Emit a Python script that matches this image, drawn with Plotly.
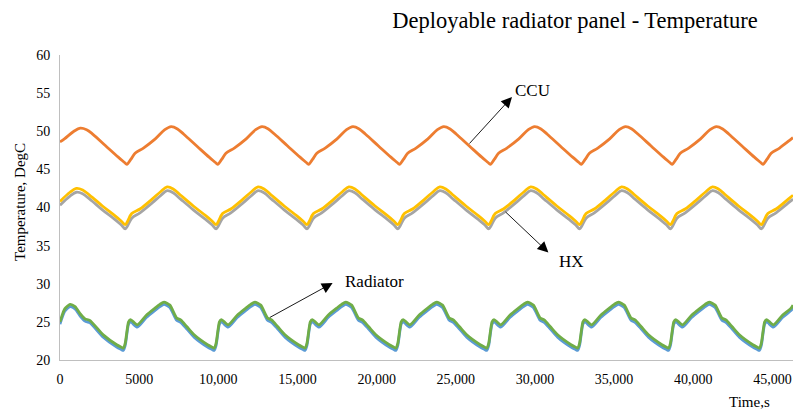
import plotly.graph_objects as go

# ---------------- data ----------------
t_ccu = [0, 280, 880, 1280, 1680, 2080, 2880, 3680, 4080,
         4220, 4470, 4740, 5270, 6020, 6620, 7020, 7420, 7820, 8620, 9420, 9820,
         9960, 10210, 10480, 11010, 11760, 12360, 12760, 13160, 13560, 14360, 15160, 15560,
         15700, 15950, 16220, 16750, 17500, 18100, 18500, 18900, 19300, 20100, 20900, 21300,
         21440, 21690, 21960, 22490, 23240, 23840, 24240, 24640, 25040, 25840, 26640, 27040,
         27180, 27430, 27700, 28230, 28980, 29580, 29980, 30380, 30780, 31580, 32380, 32780,
         32920, 33170, 33440, 33970, 34720, 35320, 35720, 36120, 36520, 37320, 38120, 38520,
         38660, 38910, 39180, 39710, 40460, 41060, 41460, 41860, 42260, 43060, 43860, 44260,
         44400, 44650, 44920, 45450, 46200, 46300]
ccu = [48.6, 49.0, 50.0, 50.4, 50.2, 49.6, 48.1, 46.6, 45.9,
       45.65, 46.3, 47.1, 47.8, 49.0, 50.2, 50.6, 50.3, 49.6, 48.1, 46.6, 45.9,
       45.65, 46.3, 47.1, 47.8, 49.0, 50.2, 50.6, 50.3, 49.6, 48.1, 46.6, 45.9,
       45.65, 46.3, 47.1, 47.8, 49.0, 50.2, 50.6, 50.3, 49.6, 48.1, 46.6, 45.9,
       45.65, 46.3, 47.1, 47.8, 49.0, 50.2, 50.6, 50.3, 49.6, 48.1, 46.6, 45.9,
       45.65, 46.3, 47.1, 47.8, 49.0, 50.2, 50.6, 50.3, 49.6, 48.1, 46.6, 45.9,
       45.65, 46.3, 47.1, 47.8, 49.0, 50.2, 50.6, 50.3, 49.6, 48.1, 46.6, 45.9,
       45.65, 46.3, 47.1, 47.8, 49.0, 50.2, 50.6, 50.3, 49.6, 48.1, 46.6, 45.9,
       45.65, 46.3, 47.1, 47.8, 49.0, 49.15]

t_hx = [0, 630, 1030, 1430, 1880, 2680, 3480, 3880,
        4120, 4270, 4530, 5050, 5820, 6370, 6770, 7170, 7620, 8420, 9220, 9620,
        9860, 10010, 10270, 10790, 11560, 12110, 12510, 12910, 13360, 14160, 14960, 15360,
        15600, 15750, 16010, 16530, 17300, 17850, 18250, 18650, 19100, 19900, 20700, 21100,
        21340, 21490, 21750, 22270, 23040, 23590, 23990, 24390, 24840, 25640, 26440, 26840,
        27080, 27230, 27490, 28010, 28780, 29330, 29730, 30130, 30580, 31380, 32180, 32580,
        32820, 32970, 33230, 33750, 34520, 35070, 35470, 35870, 36320, 37120, 37920, 38320,
        38560, 38710, 38970, 39490, 40260, 40810, 41210, 41610, 42060, 42860, 43660, 44060,
        44300, 44450, 44710, 45230, 46000, 46300]
hx_upper = [40.8, 42.0, 42.5, 42.3, 41.6, 40.2, 38.9, 38.2,
            37.75, 38.2, 39.2, 39.8, 41.1, 42.1, 42.7, 42.4, 41.6, 40.2, 38.9, 38.2,
            37.75, 38.2, 39.2, 39.8, 41.1, 42.1, 42.7, 42.4, 41.6, 40.2, 38.9, 38.2,
            37.75, 38.2, 39.2, 39.8, 41.1, 42.1, 42.7, 42.4, 41.6, 40.2, 38.9, 38.2,
            37.75, 38.2, 39.2, 39.8, 41.1, 42.1, 42.7, 42.4, 41.6, 40.2, 38.9, 38.2,
            37.75, 38.2, 39.2, 39.8, 41.1, 42.1, 42.7, 42.4, 41.6, 40.2, 38.9, 38.2,
            37.75, 38.2, 39.2, 39.8, 41.1, 42.1, 42.7, 42.4, 41.6, 40.2, 38.9, 38.2,
            37.75, 38.2, 39.2, 39.8, 41.1, 42.1, 42.7, 42.4, 41.6, 40.2, 38.9, 38.2,
            37.75, 38.2, 39.2, 39.8, 41.1, 41.6]
hx_lower = [40.3, 41.5, 42.0, 41.8, 41.1, 39.7, 38.4, 37.7,
            37.2, 37.6, 38.6, 39.3, 40.6, 41.6, 42.2, 41.9, 41.1, 39.7, 38.4, 37.7,
            37.2, 37.6, 38.6, 39.3, 40.6, 41.6, 42.2, 41.9, 41.1, 39.7, 38.4, 37.7,
            37.2, 37.6, 38.6, 39.3, 40.6, 41.6, 42.2, 41.9, 41.1, 39.7, 38.4, 37.7,
            37.2, 37.6, 38.6, 39.3, 40.6, 41.6, 42.2, 41.9, 41.1, 39.7, 38.4, 37.7,
            37.2, 37.6, 38.6, 39.3, 40.6, 41.6, 42.2, 41.9, 41.1, 39.7, 38.4, 37.7,
            37.2, 37.6, 38.6, 39.3, 40.6, 41.6, 42.2, 41.9, 41.1, 39.7, 38.4, 37.7,
            37.2, 37.6, 38.6, 39.3, 40.6, 41.6, 42.2, 41.9, 41.1, 39.7, 38.4, 37.7,
            37.2, 37.6, 38.6, 39.3, 40.6, 41.1]

t_rad = [0, 300, 630, 950, 1300, 1580, 1880, 2730, 3580, 3850,
         4000, 4120, 4330, 4460, 4880, 5470, 6000, 6310, 6570, 6940, 7370, 7620, 8000, 8470, 9320, 9590,
         9740, 9860, 10070, 10200, 10620, 11210, 11740, 12050, 12310, 12680, 13110, 13360, 13740, 14210, 15060, 15330,
         15480, 15600, 15810, 15940, 16360, 16950, 17480, 17790, 18050, 18420, 18850, 19100, 19480, 19950, 20800, 21070,
         21220, 21340, 21550, 21680, 22100, 22690, 23220, 23530, 23790, 24160, 24590, 24840, 25220, 25690, 26540, 26810,
         26960, 27080, 27290, 27420, 27840, 28430, 28960, 29270, 29530, 29900, 30330, 30580, 30960, 31430, 32280, 32550,
         32700, 32820, 33030, 33160, 33580, 34170, 34700, 35010, 35270, 35640, 36070, 36320, 36700, 37170, 38020, 38290,
         38440, 38560, 38770, 38900, 39320, 39910, 40440, 40750, 41010, 41380, 41810, 42060, 42440, 42910, 43760, 44030,
         44180, 44300, 44510, 44640, 45060, 45650, 46180, 46300]
rad_upper = [25.0, 26.7, 27.3, 27.0, 26.0, 25.4, 25.2, 23.3, 22.0, 21.7,
             21.55, 22.2, 25.0, 25.3, 24.6, 25.9, 26.8, 27.3, 27.6, 27.2, 25.5, 25.25, 24.4, 23.3, 22.0, 21.7,
             21.55, 22.2, 25.0, 25.3, 24.6, 25.9, 26.8, 27.3, 27.6, 27.2, 25.5, 25.25, 24.4, 23.3, 22.0, 21.7,
             21.55, 22.2, 25.0, 25.3, 24.6, 25.9, 26.8, 27.3, 27.6, 27.2, 25.5, 25.25, 24.4, 23.3, 22.0, 21.7,
             21.55, 22.2, 25.0, 25.3, 24.6, 25.9, 26.8, 27.3, 27.6, 27.2, 25.5, 25.25, 24.4, 23.3, 22.0, 21.7,
             21.55, 22.2, 25.0, 25.3, 24.6, 25.9, 26.8, 27.3, 27.6, 27.2, 25.5, 25.25, 24.4, 23.3, 22.0, 21.7,
             21.55, 22.2, 25.0, 25.3, 24.6, 25.9, 26.8, 27.3, 27.6, 27.2, 25.5, 25.25, 24.4, 23.3, 22.0, 21.7,
             21.55, 22.2, 25.0, 25.3, 24.6, 25.9, 26.8, 27.3, 27.6, 27.2, 25.5, 25.25, 24.4, 23.3, 22.0, 21.7,
             21.55, 22.2, 25.0, 25.3, 24.6, 25.9, 26.8, 27.2]
rad_lower = [24.7, 26.4, 27.0, 26.7, 25.7, 25.1, 24.9, 23.0, 21.7, 21.4,
             21.25, 21.9, 24.7, 25.0, 24.3, 25.6, 26.5, 27.0, 27.3, 26.9, 25.2, 24.95, 24.1, 23.0, 21.7, 21.4,
             21.25, 21.9, 24.7, 25.0, 24.3, 25.6, 26.5, 27.0, 27.3, 26.9, 25.2, 24.95, 24.1, 23.0, 21.7, 21.4,
             21.25, 21.9, 24.7, 25.0, 24.3, 25.6, 26.5, 27.0, 27.3, 26.9, 25.2, 24.95, 24.1, 23.0, 21.7, 21.4,
             21.25, 21.9, 24.7, 25.0, 24.3, 25.6, 26.5, 27.0, 27.3, 26.9, 25.2, 24.95, 24.1, 23.0, 21.7, 21.4,
             21.25, 21.9, 24.7, 25.0, 24.3, 25.6, 26.5, 27.0, 27.3, 26.9, 25.2, 24.95, 24.1, 23.0, 21.7, 21.4,
             21.25, 21.9, 24.7, 25.0, 24.3, 25.6, 26.5, 27.0, 27.3, 26.9, 25.2, 24.95, 24.1, 23.0, 21.7, 21.4,
             21.25, 21.9, 24.7, 25.0, 24.3, 25.6, 26.5, 27.0, 27.3, 26.9, 25.2, 24.95, 24.1, 23.0, 21.7, 21.4,
             21.25, 21.9, 24.7, 25.0, 24.3, 25.6, 26.5, 26.9]

x_tick_vals = [0, 5000, 10000, 15000, 20000, 25000, 30000, 35000, 40000, 45000]
x_tick_text = ["0", "5000", "10,000", "15,000", "20,000", "25,000", "30,000", "35,000", "40,000", "45,000"]
y_tick_vals = [20, 25, 30, 35, 40, 45, 50, 55, 60]

title_text = "Deployable radiator panel - Temperature"
x_title = "Time,s"
y_title = "Temperature, DegC"

# ---------------- figure ----------------
FONT = "Liberation Serif, Times New Roman, serif"
LW = 2.8
fig = go.Figure()
series = [
    (t_rad, rad_lower, "#5B9BD5", "Radiator (lower)", 0.6),
    (t_ccu, ccu, "#ED7D31", "CCU", 1.0),
    (t_hx, hx_lower, "#A5A5A5", "HX (lower)", 1.0),
    (t_hx, hx_upper, "#FFC000", "HX (upper)", 1.0),
    (t_rad, rad_upper, "#70AD47", "Radiator (upper)", 0.6),
]
for xs, ys, col, name, sm in series:
    fig.add_trace(go.Scatter(x=xs, y=ys, mode="lines", name=name,
                             line=dict(color=col, width=LW, shape="spline", smoothing=sm),
                             hoverinfo="skip"))

fig.update_layout(
    width=797, height=414,
    margin=dict(l=60, r=4, t=55, b=54),
    paper_bgcolor="white", plot_bgcolor="white",
    showlegend=False,
    font=dict(family=FONT, size=14, color="#000000"),
    title=dict(text=title_text, x=0.7215, xanchor="center", y=0.952, yanchor="middle",
               font=dict(family=FONT, size=22.5, color="#000000")),
)
fig.update_xaxes(range=[0, 46300], tickmode="array", tickvals=x_tick_vals, ticktext=x_tick_text,
                 showgrid=False, zeroline=False, showline=True, linecolor="#BFBFBF", linewidth=1,
                 ticks="outside", ticklen=6, tickcolor="rgba(0,0,0,0)",
                 tickfont=dict(family=FONT, size=14, color="#000000"))
fig.update_yaxes(range=[20, 60], tickmode="array", tickvals=y_tick_vals,
                 showgrid=False, zeroline=False, showline=True, linecolor="#BFBFBF", linewidth=1,
                 ticks="outside", ticklen=6, tickcolor="rgba(0,0,0,0)",
                 tickfont=dict(family=FONT, size=14, color="#000000"))

annos = []
# axis titles
annos.append(dict(text=y_title, xref="paper", yref="paper", x=-0.0546, y=0.518,
                  textangle=-90, showarrow=False, xanchor="center", yanchor="middle",
                  font=dict(family=FONT, size=15)))
annos.append(dict(text=x_title, xref="paper", yref="paper", x=0.941, y=-0.137,
                  showarrow=False, xanchor="center", yanchor="middle",
                  font=dict(family=FONT, size=15)))
# arrows (head near the label, tail on the curve)
arrow_style = dict(showarrow=True, arrowhead=2, arrowsize=2.4, arrowwidth=0.9,
                   arrowcolor="#000000", standoff=0, startstandoff=0,
                   xref="x", yref="y", axref="x", ayref="y", text="")
annos.append(dict(x=28550, y=54.5, ax=25780, ay=48.2, **arrow_style))
annos.append(dict(x=30850, y=34.1, ax=28050, ay=39.6, **arrow_style))
annos.append(dict(x=17220, y=30.1, ax=13160, ay=25.47, **arrow_style))
# labels
annos.append(dict(text="CCU", x=29860, y=55.4, xref="x", yref="y", showarrow=False,
                  xanchor="center", yanchor="middle", font=dict(family=FONT, size=17)))
annos.append(dict(text="HX", x=32320, y=32.9, xref="x", yref="y", showarrow=False,
                  xanchor="center", yanchor="middle", font=dict(family=FONT, size=17)))
annos.append(dict(text="Radiator", x=17850, y=30.25, xref="x", yref="y", showarrow=False,
                  xanchor="left", yanchor="middle", font=dict(family=FONT, size=17)))
fig.update_layout(annotations=annos)

fig.write_html("out.html")
